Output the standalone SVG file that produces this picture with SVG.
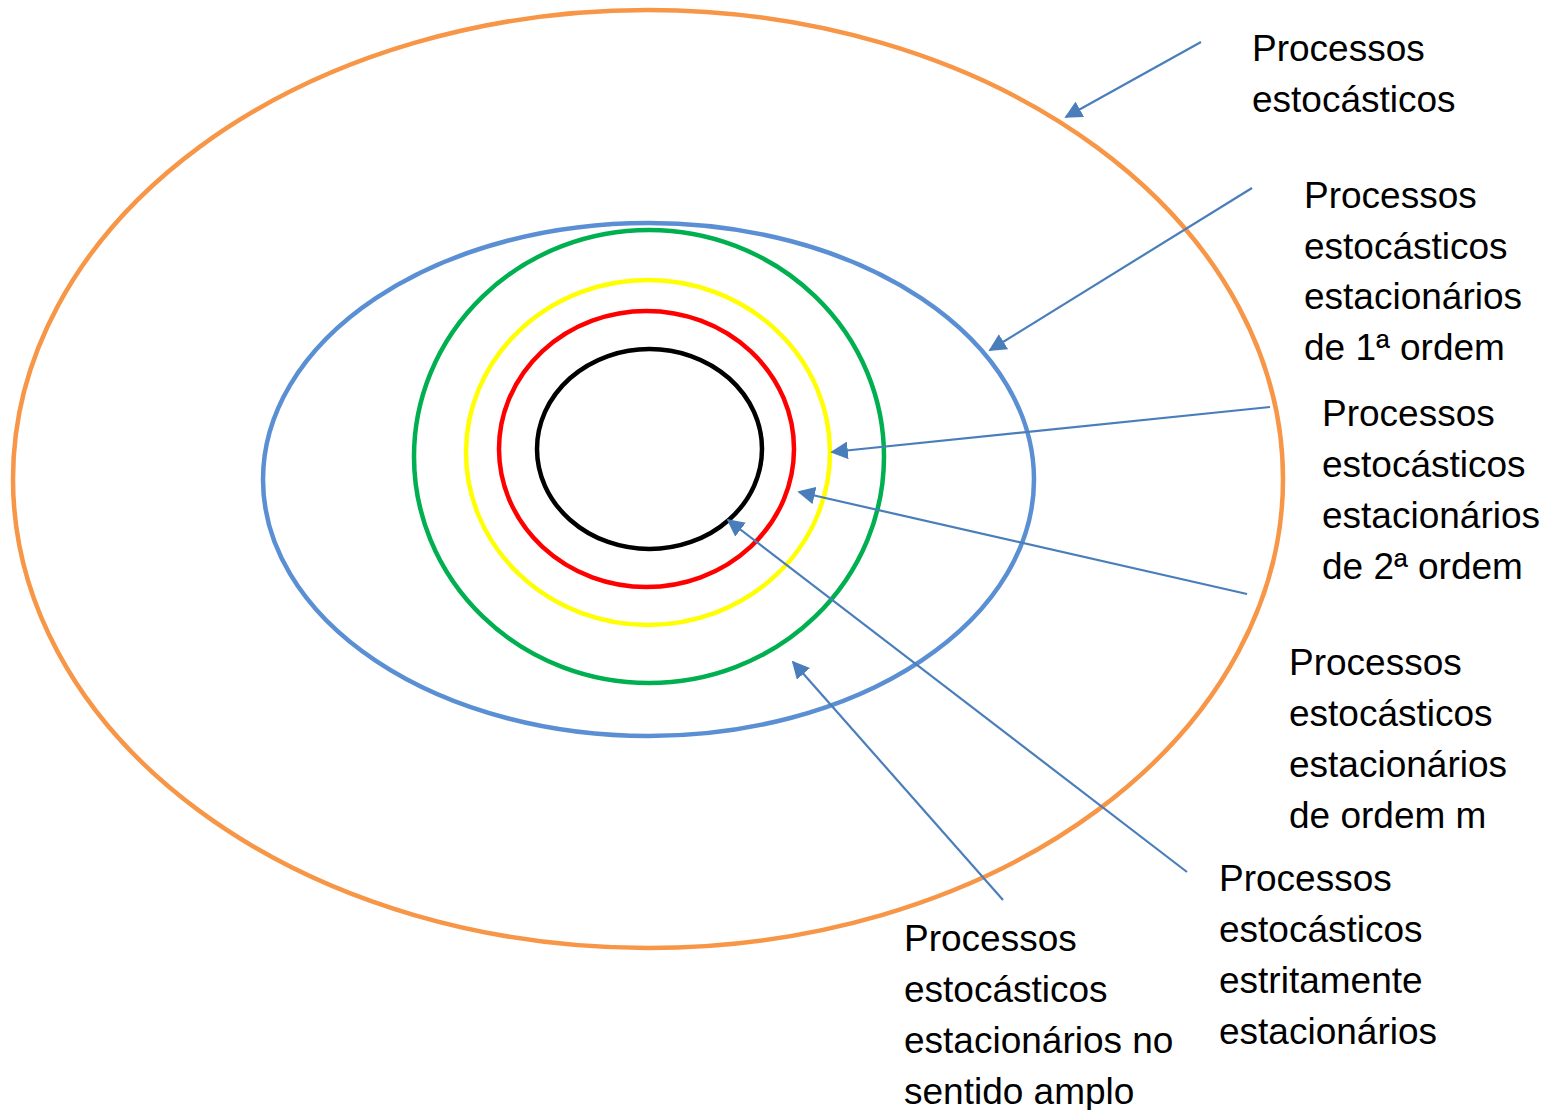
<svg xmlns="http://www.w3.org/2000/svg" width="1565" height="1110" viewBox="0 0 1565 1110">
<style>
.e{fill:none;stroke-width:4.5}
.c{stroke:#4A7EBB;stroke-width:2.2;fill:none}
text{font-family:"Liberation Sans",Arial,sans-serif;font-size:37px;fill:#000}
</style>
<defs>
<marker id="ah" viewBox="0 0 10 10" refX="9" refY="5" markerWidth="8" markerHeight="8" markerUnits="strokeWidth" orient="auto">
<path d="M0,0 L10,5 L0,10 z" fill="#4A7EBB"/>
</marker>
</defs>
<rect width="1565" height="1110" fill="#fff"/>
<g id="n-processos"><ellipse class="e" cx="648" cy="479" rx="635" ry="469" stroke="#F79646"/></g>
<g id="n-amplo"><ellipse class="e" cx="648.5" cy="479.5" rx="385.5" ry="256.5" stroke="#5B8FD3"/></g>
<g id="n-ordem1"><ellipse class="e" cx="649" cy="456.5" rx="235" ry="226.5" stroke="#00B050"/></g>
<g id="n-ordem2"><ellipse class="e" cx="648" cy="452.5" rx="182" ry="172.5" stroke="#FFFF00"/></g>
<g id="n-ordemm"><ellipse class="e" cx="646.5" cy="449" rx="147.5" ry="138" stroke="#FF0000"/></g>
<g id="n-estrito"><ellipse class="e" cx="649.5" cy="449" rx="112.5" ry="100" stroke="#000"/></g>
<g id="connectors">
<line class="c" x1="1201" y1="42" x2="1066" y2="117" marker-end="url(#ah)"/>
<line class="c" x1="1252" y1="188" x2="990" y2="350" marker-end="url(#ah)"/>
<line class="c" x1="1270" y1="407" x2="832" y2="452" marker-end="url(#ah)"/>
<line class="c" x1="1247" y1="594" x2="799" y2="492" marker-end="url(#ah)"/>
<line class="c" x1="1187" y1="872" x2="728" y2="520" marker-end="url(#ah)"/>
<line class="c" x1="1003" y1="900" x2="793" y2="662" marker-end="url(#ah)"/>
</g>
<g id="labels">
<text x="1252" y="61">Processos<tspan x="1252" y="112">estocásticos</tspan></text>
<text x="1304" y="208">Processos<tspan x="1304" y="259">estocásticos</tspan><tspan x="1304" y="309">estacionários</tspan><tspan x="1304" y="360">de 1ª ordem</tspan></text>
<text x="1322" y="426">Processos<tspan x="1322" y="477">estocásticos</tspan><tspan x="1322" y="528">estacionários</tspan><tspan x="1322" y="579">de 2ª ordem</tspan></text>
<text x="1289" y="675">Processos<tspan x="1289" y="726">estocásticos</tspan><tspan x="1289" y="777">estacionários</tspan><tspan x="1289" y="828">de ordem m</tspan></text>
<text x="1219" y="891">Processos<tspan x="1219" y="942">estocásticos</tspan><tspan x="1219" y="993">estritamente</tspan><tspan x="1219" y="1044">estacionários</tspan></text>
<text x="904" y="951">Processos<tspan x="904" y="1002">estocásticos</tspan><tspan x="904" y="1053">estacionários no</tspan><tspan x="904" y="1104">sentido amplo</tspan></text>
</g>
</svg>
